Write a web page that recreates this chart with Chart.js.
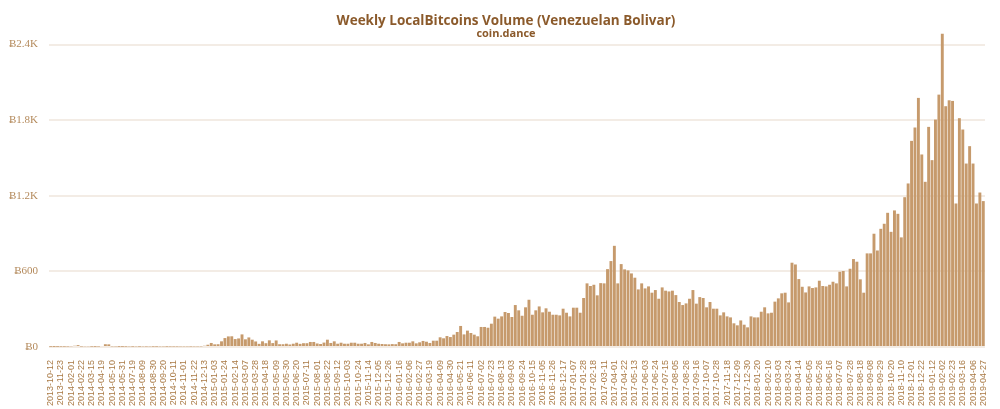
<!DOCTYPE html>
<html>
<head>
<meta charset="utf-8">
<title>Weekly LocalBitcoins Volume (Venezuelan Bolivar)</title>
<script src="https://cdn.jsdelivr.net/npm/chart.js@4.4.1/dist/chart.umd.min.js"></script>
<style>
  body { margin: 0; background: #fff; }
  #wrap { position: relative; width: 1000px; height: 409px; }
  #title, #sub {
    position: absolute; left: 0; width: 1012px; text-align: center;
    font-family: "Liberation Sans Narrow", "Open Sans", sans-serif; font-weight: bold; color: #8b5a2b;
  }
  #title { top: 11px; font-size: 13.5px; }
  #sub { top: 25px; font-size: 11px; }
</style>
</head>
<body>
<div id="wrap">
  <canvas id="myChart" width="1000" height="409"></canvas>
  <div id="title">Weekly LocalBitcoins Volume (Venezuelan Bolivar)</div>
  <div id="sub">coin.dance</div>
</div>
<script>
// semaines du debut (donnees irregulieres)
const earlyWeeks = [
  "2013-10-12", "2013-10-26", "2013-11-09", "2013-11-23", "2013-12-14", "2014-01-11",
  "2014-02-01", "2014-02-08", "2014-02-15", "2014-02-22", "2014-03-01", "2014-03-08",
  "2014-03-15", "2014-03-22", "2014-04-05", "2014-04-19", "2014-04-26", "2014-05-03",
  "2014-05-10", "2014-05-17", "2014-05-24", "2014-05-31", "2014-06-14", "2014-07-05"
];
const firstWeekly = "2014-07-19";
const weeklyCount = 250;

// volume hebdo en BTC
const volume2013_2014 = [
  2, 1, 2, 3, 3, 4, 6, 10, 15, 4, 6, 6, 3, 2, 4, 8, 22, 21, 5, 5,
  2, 2, 3, 5, 3, 5, 3, 5, 4, 5, 3, 3, 5, 5, 3, 4, 4, 4, 5, 5,
  5, 4, 5, 5, 5
];
const volume2015 = [
  10, 18, 32, 21, 22, 45, 71, 84, 85, 63, 68, 100, 61, 76, 58, 44, 25, 45, 30, 53,
  31, 52, 22, 22, 26, 20, 26, 34, 25, 30, 30, 40, 40, 28, 24, 35
];
const volume2016 = [
  58, 32, 45, 26, 34, 26, 26, 34, 34, 26, 26, 32, 21, 40, 32, 26, 24, 22, 21, 23,
  22, 40, 29, 34, 34, 45, 29, 37, 48, 42, 32, 50, 50, 77, 69, 87, 79, 98, 119, 167,
  100, 130, 111, 98, 85, 159, 159, 153, 185, 241, 225, 243, 278, 270, 238, 333, 291, 248, 315, 375,
  256, 291, 322
];
const volume2017 = [
  275, 307, 280, 256, 256, 251, 304, 272, 243, 312, 312, 272, 389, 505, 484, 494, 410, 507, 505, 618,
  682, 803, 505, 658, 616, 608, 584, 550, 457, 505, 465, 481, 431, 452, 383, 473, 447, 441, 447, 412,
  357, 333, 346, 383, 452, 344, 396, 389, 315, 357, 304, 304, 251, 275, 243, 235, 188, 172, 211, 177,
  156, 243, 235, 235, 280, 315
];
const volume2018_2019 = [
  267, 272, 360, 386, 426, 431, 354, 669, 655, 539, 478, 433, 481, 468, 473, 526, 484, 481, 494, 518,
  505, 597, 603, 481, 621, 698, 677, 537, 431, 743, 743, 899, 766, 938, 978, 1065, 914, 1084, 1057, 870,
  1189, 1298, 1636, 1742, 1977, 1528, 1311, 1747, 1483, 1805, 2003, 2487, 1911, 1958, 1953, 1139, 1816, 1726, 1456, 1594,
  1456, 1139, 1226, 1158
];

const yTicks = [0, 600, 1200, 1800, 2400];

// construction des etiquettes
const labels = earlyWeeks.slice();
let d = new Date(firstWeekly + "T00:00:00Z");
for (let i = 0; i < weeklyCount; i++) {
  labels.push(d.toISOString().slice(0, 10));
  d = new Date(d.getTime() + 7 * 86400000);
}

const volumes = [].concat(volume2013_2014, volume2015, volume2016, volume2017, volume2018_2019);

function fmtBtc(v) {
  if (v >= 1000) return "\u0243" + (v / 1000) + "K";
  return "\u0243" + v;
}

const config = {
  type: "bar",
  data: {
    labels: labels,
    datasets: [{
      label: "Volume",
      data: volumes,
      backgroundColor: "#c69a6c",
      borderWidth: 0,
      barPercentage: 0.85,
      categoryPercentage: 1.0
    }]
  },
  options: {
    responsive: false,
    animation: false,
    layout: { padding: { top: 32, right: 15, left: 0, bottom: 0 } },
    plugins: {
      legend: { display: false },
      tooltip: { enabled: false }
    },
    scales: {
      x: {
        afterFit: function (scale) { scale.height = 62; },
        grid: { display: false },
        border: { display: false },
        ticks: {
          autoSkip: false,
          maxRotation: 90,
          minRotation: 90,
          padding: 5,
          color: "#a97a45",
          font: { family: "Liberation Sans", size: 9 },
          callback: function (value, index) {
            return index % 3 === 0 ? labels[index] : "";
          }
        }
      },
      y: {
        min: 0,
        max: 2500,
        afterFit: function (scale) { scale.width = 49; },
        afterBuildTicks: function (axis) {
          axis.ticks = yTicks.map(function (v) { return { value: v }; });
        },
        grid: { color: "#f3ece5", lineWidth: 2, drawTicks: false },
        border: { display: false },
        ticks: {
          padding: 11,
          color: "#b48a5c",
          font: { family: "'Liberation Serif'", size: 11 },
          callback: function (value) { return fmtBtc(value); }
        }
      }
    }
  }
};

const context = document.getElementById("myChart").getContext("2d");
const chart = new Chart(context, config);
</script>
</body>
</html>
